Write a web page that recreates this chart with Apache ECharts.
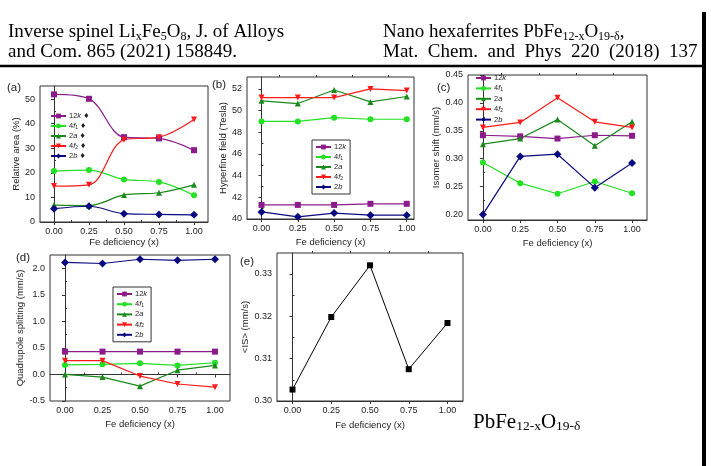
<!DOCTYPE html>
<html>
<head>
    <meta charset="utf-8">
    <script src="https://cdn.jsdelivr.net/npm/echarts@6.0.0/dist/echarts.min.js"></script>
</head>
<body style="margin: 0; background: #fff">
<div id="container" style="height: 466px; width: 711px;"></div>
<script>

// Fe deficiency x (same for every panel)
var xValues = [0, 0.25, 0.5, 0.75, 1.0];
var xTicks = [0, 0.25, 0.5, 0.75, 1.0];
var sites = ['12k', '4f1', '2a', '4f2', '2b'];

// (a) relative area (%)
var area12k = [51.9, 50.1, 34.5, 34.0, 29.2];
var area4f1 = [20.7, 21.1, 17.3, 16.3, 10.9];
var area2a = [6.9, 6.7, 11.0, 11.9, 15.1];
var area4f2 = [14.6, 15.1, 33.4, 34.5, 41.7];
var area2b = [5.4, 6.4, 3.4, 3.1, 2.9];
var areaTicks = [0, 10, 20, 30, 40, 50];

// (b) hyperfine field (Tesla)
var hf12k = [41.3, 41.3, 41.3, 41.4, 41.4];
var hf4f1 = [49.0, 49.0, 49.35, 49.2, 49.2];
var hf2a = [50.9, 50.65, 51.9, 50.8, 51.3];
var hf4f2 = [51.2, 51.2, 51.2, 52.0, 51.85];
var hf2b = [40.65, 40.2, 40.55, 40.35, 40.35];
var hfTicks = [40, 42, 44, 46, 48, 50, 52];

// (c) isomer shift (mm/s)
var is12k = [0.342, 0.340, 0.336, 0.342, 0.341];
var is4f1 = [0.293, 0.256, 0.237, 0.259, 0.238];
var is2a = [0.326, 0.336, 0.370, 0.323, 0.366];
var is4f2 = [0.356, 0.365, 0.409, 0.366, 0.356];
var is2b = [0.200, 0.304, 0.308, 0.248, 0.292];
var isTicks = [0.20, 0.25, 0.30, 0.35, 0.40, 0.45];

// (d) quadrupole splitting (mm/s)
var qs12k = [0.43, 0.43, 0.43, 0.43, 0.43];
var qs4f1 = [0.18, 0.19, 0.21, 0.17, 0.22];
var qs2a = [0.00, -0.05, -0.22, 0.08, 0.17];
var qs4f2 = [0.26, 0.26, -0.03, -0.18, -0.24];
var qs2b = [2.11, 2.09, 2.17, 2.15, 2.17];
var qsTicks = [-0.5, 0, 0.5, 1.0, 1.5, 2.0];

// (e) mean isomer shift <IS> (mm/s)
var meanIS = [0.3027, 0.3198, 0.3320, 0.3075, 0.3184];
var meanTicks = [0.30, 0.31, 0.32, 0.33];

var siteColors = {'12k': '#8b1a8b', '4f1': '#22e022', '2a': '#1a8a1a', '4f2': '#ff1a1a', '2b': '#0a0a80'};
var siteSymbols = {'12k': 'rect', '4f1': 'circle', '2a': 'triangle', '4f2': 'triangle', '2b': 'diamond'};

var dom = document.getElementById("container");
var myChart = echarts.init(dom, null, {renderer: 'canvas'});

var sansFont = 'Liberation Sans, Arial, sans-serif';
var serifFont = 'Liberation Serif, Times New Roman, serif';

// grid boxes: [left, top, width, height]
var boxes = [
    [40, 86, 168, 136],
    [247, 77, 167, 142],
    [468, 75, 179, 145],
    [50, 255, 180, 146],
    [277, 253, 186, 148]
];

function midpoints(ticks) {
    var res = [];
    for (var i = 0; i < ticks.length - 1; i++) {
        res.push((ticks[i] + ticks[i + 1]) / 2);
    }
    return res;
}

function pairs(ys) {
    var res = [];
    for (var i = 0; i < xValues.length; i++) {
        res.push([xValues[i], ys[i]]);
    }
    return res;
}

var grids = [], xAxes = [], yAxes = [], series = [];

// y ranges and label formats per panel
var yConf = [
    {min: 0, max: 55.3, ticks: areaTicks, dec: 0, name: 'Relative area (%)', gap: 14},
    {min: 40, max: 53.1, ticks: hfTicks, dec: 0, name: 'Hyperfine field (Tesla)', gap: 15},
    {min: 0.19, max: 0.45, ticks: isTicks, dec: 2, name: 'Isomer shift (mm/s)', gap: 25},
    {min: -0.5, max: 2.25, ticks: qsTicks, dec: 1, name: 'Quadrupole splitting (mm/s)', gap: 22},
    {min: 0.30, max: 0.3349, ticks: meanTicks, dec: 2, name: '<IS> (mm/s)', gap: 25}
];
var xMax = [1.1, 1.05, 1.1, 1.1, 1.1];
var xGap = [15, 18, 18, 18, 19];

for (var g = 0; g < 5; g++) {
    grids.push({
        left: boxes[g][0], top: boxes[g][1], width: boxes[g][2], height: boxes[g][3],
        show: true, borderColor: '#333', borderWidth: 1, containLabel: false
    });
    // major x axis
    xAxes.push({
        type: 'value', gridIndex: g, min: -0.1, max: xMax[g],
        name: 'Fe deficiency (x)', nameLocation: 'middle', nameGap: xGap[g],
        nameTextStyle: {fontFamily: sansFont, fontSize: 9.5, color: '#222'},
        axisLine: {show: true, lineStyle: {color: '#333', width: 1}},
        axisTick: {show: true, length: 3, customValues: xTicks, lineStyle: {color: '#333'}},
        axisLabel: {customValues: xTicks, margin: 5, fontFamily: sansFont, fontSize: 9, color: '#222',
            formatter: function (v) { return v.toFixed(2); }},
        splitLine: {show: false}
    });
    // minor x ticks
    xAxes.push({
        type: 'value', gridIndex: g, min: -0.1, max: xMax[g],
        axisLine: {show: false},
        axisTick: {show: true, length: 2, customValues: midpoints(xTicks), lineStyle: {color: '#333'}},
        axisLabel: {show: false},
        splitLine: {show: false}
    });
    (function (c) {
        yAxes.push({
            type: 'value', gridIndex: g, min: c.min, max: c.max,
            name: c.name, nameLocation: 'middle', nameGap: c.gap,
            nameTextStyle: {fontFamily: sansFont, fontSize: 9.5, color: '#222'},
            axisLine: {show: true, lineStyle: {color: '#333', width: 1}},
            axisTick: {show: true, length: 3, customValues: c.ticks, lineStyle: {color: '#333'}},
            axisLabel: {customValues: c.ticks, margin: 5, fontFamily: sansFont, fontSize: 9, color: '#222',
                formatter: function (v) { return v.toFixed(c.dec); }},
            splitLine: {show: false}
        });
        yAxes.push({
            type: 'value', gridIndex: g, min: c.min, max: c.max,
            axisLine: {show: false},
            axisTick: {show: true, length: 2, customValues: midpoints(c.ticks), lineStyle: {color: '#333'}},
            axisLabel: {show: false},
            splitLine: {show: false}
        });
    })(yConf[g]);
}

var panelData = [
    [area12k, area4f1, area2a, area4f2, area2b],
    [hf12k, hf4f1, hf2a, hf4f2, hf2b],
    [is12k, is4f1, is2a, is4f2, is2b],
    [qs12k, qs4f1, qs2a, qs4f2, qs2b]
];

for (var p = 0; p < 4; p++) {
    for (var s = 0; s < sites.length; s++) {
        var site = sites[s];
        series.push({
            name: site, type: 'line',
            xAxisIndex: 2 * p, yAxisIndex: 2 * p,
            smooth: p === 0 ? 0.35 : false,
            data: pairs(panelData[p][s]),
            symbol: siteSymbols[site],
            symbolSize: site === '2b' ? 8 : 6,
            symbolRotate: site === '4f2' ? 180 : 0,
            itemStyle: {color: siteColors[site]},
            lineStyle: {color: siteColors[site], width: 1.2},
            z: 3
        });
    }
}
series.push({
    name: '<IS>', type: 'line', xAxisIndex: 8, yAxisIndex: 8,
    data: pairs(meanIS), symbol: 'rect', symbolSize: 6,
    itemStyle: {color: '#000'}, lineStyle: {color: '#000', width: 1}
});

var siteRich = {
    n: {fontFamily: sansFont, fontSize: 7.5, lineHeight: 8, color: '#222'},
    i: {fontFamily: sansFont, fontSize: 7.5, fontStyle: 'italic', lineHeight: 8, color: '#222'},
    s: {fontFamily: sansFont, fontSize: 5, lineHeight: 5, verticalAlign: 'bottom', color: '#222'},
    m: {fontFamily: 'DejaVu Sans', fontSize: 7, lineHeight: 8, color: '#222'}
};
var siteText = {
    '12k': '{n|12}{i|k}', '4f1': '{n|4}{i|f}{s|1}', '2a': '{n|2}{i|a}',
    '4f2': '{n|4}{i|f}{s|2}', '2b': '{n|2}{i|b}'
};

function makeLegend(left, top, gap, boxed, mark) {
    return {
        data: sites, orient: 'vertical', left: left, top: top,
        itemWidth: 15, itemHeight: 6, itemGap: gap,
        padding: boxed ? [3, 4, 3, 3] : 0,
        borderColor: boxed ? '#333' : 'transparent', borderWidth: boxed ? 1 : 0,
        selectedMode: false,
        textStyle: {fontSize: 7.5, lineHeight: 8, rich: siteRich, padding: [0, 0, 0, -2]},
        formatter: function (name) { return siteText[name] + (mark ? ' {m|\u2666}' : ''); }
    };
}

var legends = [
    makeLegend(50, 112, 2, false, true),
    makeLegend(312, 140, 2, true, false),
    makeLegend(475, 74, 2.4, false, false),
    makeLegend(113, 287, 2.2, true, false)
];

function panelLabel(text, x, y) {
    return {type: 'text', left: x, top: y, style: {text: text, font: '11.5px ' + sansFont, fill: '#222'}};
}

var headRich = {
    a: {fontFamily: serifFont, fontSize: 19, lineHeight: 20, fill: '#000'},
    s: {fontFamily: serifFont, fontSize: 12, lineHeight: 13, verticalAlign: 'bottom', fill: '#000'}
};
var footRich = {
    a: {fontFamily: serifFont, fontSize: 21, lineHeight: 22, fill: '#000'},
    s: {fontFamily: serifFont, fontSize: 13.5, lineHeight: 14, verticalAlign: 'bottom', fill: '#000'}
};

function headText(text, x, y, rich) {
    return {type: 'text', left: x, top: y, style: {text: text, rich: rich || headRich, fill: '#000'}};
}

var option = {
    animation: false,
    backgroundColor: '#fff',
    grid: grids,
    xAxis: xAxes,
    yAxis: yAxes,
    legend: legends,
    series: series,
    graphic: [
        headText('{a|Inverse spinel Li}{s|x}{a|Fe}{s|5}{a|O}{s|8}{a|, J. of Alloys}', 8, 23),
        headText('{a|and Com. 865 (2021) 158849.}', 8, 43),
        headText('{a|Nano hexaferrites PbFe}{s|12-x}{a|O}{s|19-\u03b4}{a|,}', 383, 23),
        // justified line in the source: wider word spacing
        headText('{a|Mat.  Chem.  and  Phys  220  (2018)  137}', 383, 43),
        headText('{a|PbFe}{s|12-x}{a|O}{s|19-\u03b4}', 473, 412, footRich),
        {type: 'line', shape: {x1: 0, y1: 66, x2: 704, y2: 66}, style: {stroke: '#000', lineWidth: 2.5}},
        {type: 'line', shape: {x1: 704, y1: 12, x2: 704, y2: 466}, style: {stroke: '#000', lineWidth: 4}},
        panelLabel('(a)', 7, 82),
        panelLabel('(b)', 212, 79),
        panelLabel('(c)', 437, 82),
        panelLabel('(d)', 16, 252),
        panelLabel('(e)', 240, 256)
    ]
};

myChart.setOption(option);

</script>
</body>
</html>
